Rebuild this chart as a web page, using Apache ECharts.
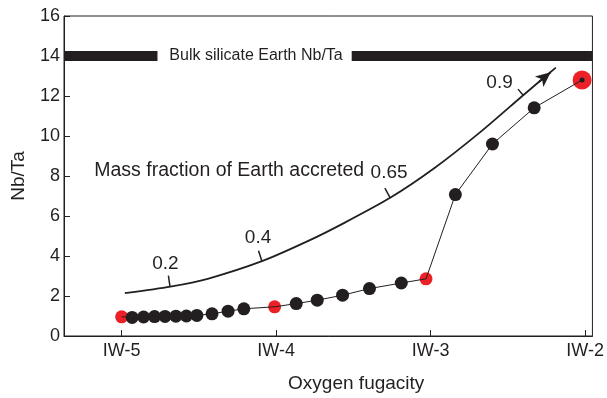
<!DOCTYPE html>
<html lang="en">
<head>
    <meta charset="UTF-8">
    <title>Nb/Ta vs oxygen fugacity</title>
    <script src="https://cdn.jsdelivr.net/npm/echarts@6/dist/echarts.min.js"></script>
</head>
<style>
    html, body { margin: 0; padding: 0; background: #fff; }
    .box { width: 607px; height: 398px; }
</style>
<body>
    <div class="box" id="myChart"></div>
    <script>
        // x axis range (log fO2 relative to IW)
        const xMin = -5.373;
        const xMax = -1.953;
        const xTicks = [-5, -4, -3, -2];

        // model points (black) and highlighted points (red)
        const modelX = [-5.0, -4.932, -4.858, -4.787, -4.719, -4.649, -4.581, -4.513, -4.415, -4.311, -4.209,
            -4.01, -3.87, -3.734, -3.57, -3.396, -3.19, -3.03, -2.84, -2.60, -2.33, -2.02];
        const modelY = [0.96, 0.93, 0.95, 0.97, 0.98, 0.99, 1.0, 1.03, 1.11, 1.24, 1.36,
            1.46, 1.62, 1.79, 2.04, 2.37, 2.65, 2.86, 7.07, 9.6, 11.41, 12.8];
        const redX = [-5.0, -4.01, -3.03];
        const redY = [0.96, 1.46, 2.86];
        const endX = [-2.02];
        const endY = [12.8];

        // accretion arrow curve
        const curveX = [-4.979, -4.685, -4.443, -4.092, -3.785, -3.568, -3.262, -2.975, -2.675, -2.401, -2.19];
        const curveY = [2.14, 2.47, 2.86, 3.74, 4.78, 5.62, 6.91, 8.40, 10.22, 12.04, 13.42];

        // mass fraction marks on the curve
        const fracText = ['0.2', '0.4', '0.65', '0.9'];
        const fracTickX = [-4.687, -4.092, -3.262, -2.401];
        const fracTickY = [2.47, 3.74, 6.91, 12.04];
        const fracLabelX = [-4.717, -4.117, -3.269, -2.554];
        const fracLabelY = [3.61, 4.90, 8.15, 12.68];

        // bulk silicate Earth reference
        const bseValue = 14;
        const bseGapX = [-4.768, -3.511];

        const ink = '#231f20';
        const red = '#ec2027';
        const font = 'Liberation Sans, Arial, sans-serif';

        let myEchart = echarts.init(document.getElementById('myChart'));

        let option = {
            animation: false,
            grid: {
                left: 64,
                right: 7,
                top: 16,
                bottom: 60,
                show: true,
                borderColor: ink,
                borderWidth: 1
            },
            xAxis: {
                type: 'value',
                min: xMin,
                max: xMax,
                name: 'Oxygen fugacity',
                nameLocation: 'middle',
                nameGap: 38,
                nameTextStyle: { color: ink, fontSize: 19, fontFamily: font, padding: [0, 0, 0, 56] },
                axisLine: { lineStyle: { color: ink, width: 1 } },
                axisTick: { inside: true, length: 6, customValues: xTicks, lineStyle: { color: ink } },
                axisLabel: {
                    customValues: xTicks,
                    color: ink,
                    fontSize: 18,
                    fontFamily: font,
                    margin: 6,
                    formatter: v => 'IW' + v
                },
                splitLine: { show: false }
            },
            yAxis: {
                type: 'value',
                min: 0,
                max: 16,
                interval: 2,
                name: 'Nb/Ta',
                nameLocation: 'middle',
                nameGap: 36,
                nameTextStyle: { color: ink, fontSize: 19, fontFamily: font },
                axisLine: { lineStyle: { color: ink, width: 1 } },
                axisTick: { inside: true, length: 6, lineStyle: { color: ink } },
                axisLabel: { color: ink, fontSize: 18, fontFamily: font, margin: 4 },
                splitLine: { show: false }
            },
            series: [
                {
                    // BSE bar, left part
                    type: 'line',
                    symbol: 'none',
                    silent: true,
                    data: [[xMin, bseValue], [bseGapX[0], bseValue]],
                    lineStyle: { color: ink, width: 10, cap: 'butt' }
                },
                {
                    // BSE bar, right part
                    type: 'line',
                    symbol: 'none',
                    silent: true,
                    data: [[bseGapX[1], bseValue], [xMax, bseValue]],
                    lineStyle: { color: ink, width: 10, cap: 'butt' }
                },
                {
                    // accretion curve with arrow
                    type: 'line',
                    symbol: 'none',
                    smooth: 0.25,
                    silent: true,
                    data: curveX.map((x, i) => [x, curveY[i]]),
                    lineStyle: { color: ink, width: 1.8 },
                    markLine: {
                        silent: true,
                        symbol: ['none', 'arrow'],
                        symbolSize: [10, 15],
                        label: { show: false },
                        lineStyle: { color: ink, width: 1.8, type: 'solid' },
                        data: [[
                            { coord: [-2.30, 12.70] },
                            { coord: [-2.223, 13.19] }
                        ]]
                    }
                },
                {
                    type: 'scatter',
                    symbolSize: 13,
                    z: 3,
                    data: redX.map((x, i) => [x, redY[i]]),
                    itemStyle: { color: red, opacity: 1 }
                },
                {
                    type: 'scatter',
                    symbolSize: 19,
                    z: 3,
                    data: endX.map((x, i) => [x, endY[i]]),
                    itemStyle: { color: red, opacity: 1 }
                },
                {
                    // connecting line through the model points
                    type: 'line',
                    symbol: 'none',
                    z: 4,
                    data: modelX.map((x, i) => [x, modelY[i]]),
                    lineStyle: { color: ink, width: 1 }
                },
                {
                    type: 'scatter',
                    symbolSize: 13,
                    z: 5,
                    data: modelX.map((x, i) => [x, modelY[i]])
                        .filter(p => redX.indexOf(p[0]) < 0 && endX.indexOf(p[0]) < 0),
                    itemStyle: { color: ink, opacity: 1 }
                },
                {
                    type: 'scatter',
                    symbolSize: 5,
                    z: 6,
                    data: endX.map((x, i) => [x, endY[i]]),
                    itemStyle: { color: ink, opacity: 1 }
                },
                {
                    // small ticks across the curve
                    type: 'custom',
                    silent: true,
                    z: 6,
                    encode: { x: 0, y: 1 },
                    data: fracTickX.map((x, i) => [x, fracTickY[i]]),
                    renderItem: function (params, api) {
                        const base = api.coord([api.value(0), api.value(1)]);
                        const pts = curveX.map((x, i) => api.coord([x, curveY[i]]));
                        let k = 1;
                        while (k < pts.length - 1 && pts[k][0] < base[0]) k++;
                        const tx = pts[k][0] - pts[k - 1][0];
                        const ty = pts[k][1] - pts[k - 1][1];
                        const len = Math.hypot(tx, ty);
                        const L = params.dataIndex === fracTickX.length - 1 ? 8 : 11;
                        return {
                            type: 'line',
                            shape: {
                                x1: base[0], y1: base[1],
                                x2: base[0] + ty / len * L, y2: base[1] - tx / len * L
                            },
                            style: { stroke: ink, lineWidth: 1.5 }
                        };
                    }
                },
                {
                    // text annotations
                    type: 'custom',
                    silent: true,
                    z: 7,
                    encode: { x: 0, y: 1 },
                    data: fracLabelX.map((x, i) => [x, fracLabelY[i], i]),
                    renderItem: function (params, api) {
                        const p = api.coord([api.value(0), api.value(1)]);
                        return {
                            type: 'text',
                            x: p[0],
                            y: p[1],
                            style: {
                                text: fracText[api.value(2)],
                                fill: ink,
                                font: '19px ' + font,
                                align: 'center',
                                verticalAlign: 'middle'
                            }
                        };
                    }
                },
                {
                    type: 'custom',
                    silent: true,
                    z: 7,
                    encode: { x: 0, y: 1 },
                    data: [[-5.177, 8.27, 0], [-4.13, bseValue, 1]],
                    renderItem: function (params, api) {
                        const p = api.coord([api.value(0), api.value(1)]);
                        const big = api.value(2) === 0;
                        return {
                            type: 'text',
                            x: p[0],
                            y: p[1],
                            style: {
                                text: big ? 'Mass fraction of Earth accreted' : 'Bulk silicate Earth Nb/Ta',
                                fill: ink,
                                font: (big ? '19.5px ' : '16px ') + font,
                                align: big ? 'left' : 'center',
                                verticalAlign: 'middle'
                            }
                        };
                    }
                }
            ]
        };
        myEchart.setOption(option, true);
    </script>
</body>
</html>
